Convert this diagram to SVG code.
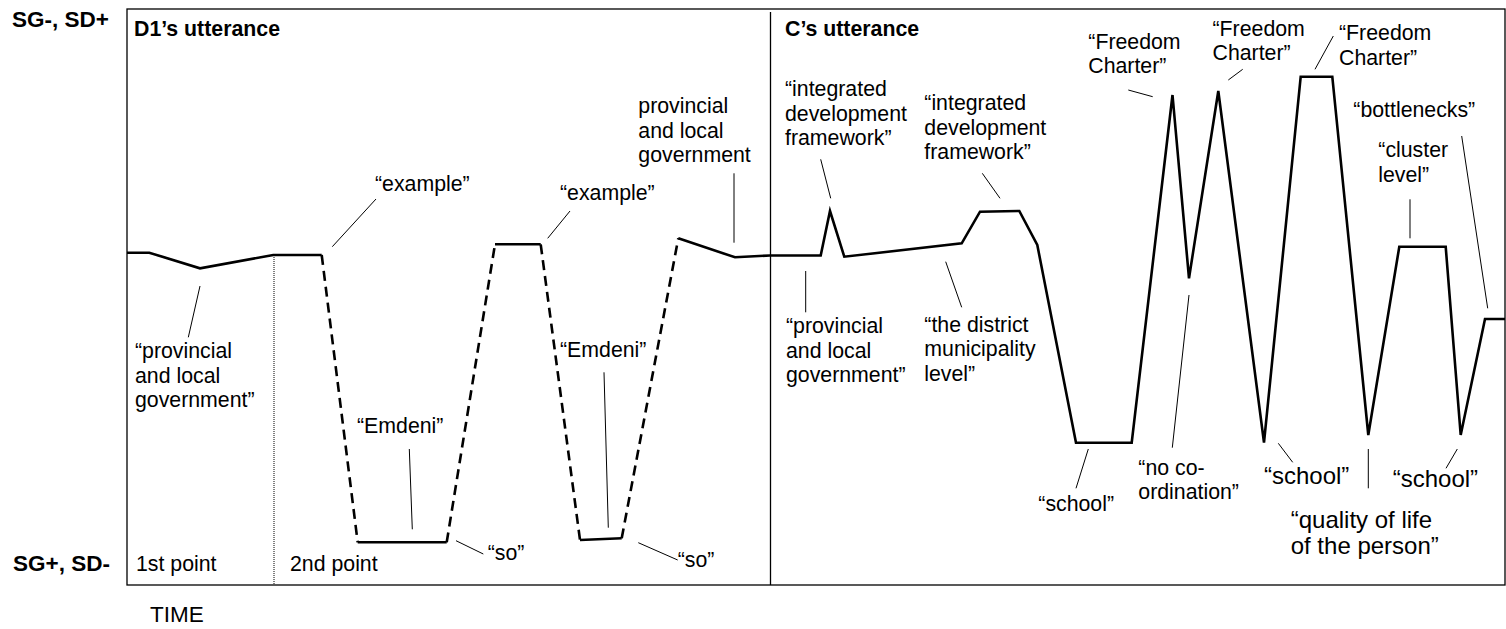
<svg xmlns="http://www.w3.org/2000/svg" width="1506" height="629" viewBox="0 0 1506 629">
  <style>
    text { font-family: "Liberation Sans", Arial, sans-serif; font-size: 21.3px; fill: #000; }
    .bold { font-weight: bold; font-size: 21.3px; }
    .axis { font-weight: bold; font-size: 22.5px; }
    .big { font-size: 24px; }
    .frame { fill: none; stroke: #000; stroke-width: 1.3; }
    .trace { fill: none; stroke: #000; stroke-width: 2.6; stroke-linejoin: miter; }
    .dash { fill: none; stroke: #000; stroke-width: 2.6; stroke-dasharray: 10 6; }
    .lead { fill: none; stroke: #000; stroke-width: 1; }
    .dot { fill: none; stroke: #000; stroke-width: 1; stroke-dasharray: 1 1; }
  </style>
  <rect width="1506" height="629" fill="#fff"/>

  <!-- axes and section frame -->
  <g id="axes">
    <rect class="frame" x="127" y="9" width="1378" height="576"/>
    <line class="frame" x1="770.5" y1="12" x2="770.5" y2="585"/>
    <line class="dot" x1="274" y1="255" x2="274" y2="585"/>
    <text class="axis" x="12" y="27">SG-, SD+</text>
    <text class="axis" x="13" y="571">SG+, SD-</text>
    <text x="150" y="622" style="font-size:22.5px">TIME</text>
    <text x="136" y="571">1st point</text>
    <text x="290" y="571">2nd point</text>
    <text class="bold" x="134" y="36">D1’s utterance</text>
    <text class="bold" x="785" y="36">C’s utterance</text>
  </g>

  <!-- semantic profile trace -->
  <g id="connectors">
    <polyline class="trace" points="127,252.7 149.3,252.7 200,268.3 273.3,255 321.7,255"/>
    <line class="dash" x1="321.7" y1="255" x2="357.7" y2="542.3"/>
    <line class="trace" x1="357.7" y1="542.3" x2="446.7" y2="542.3"/>
    <line class="dash" x1="446.7" y1="542.3" x2="495" y2="244.3"/>
    <line class="trace" x1="495" y1="244.3" x2="540.7" y2="244.3"/>
    <line class="dash" x1="540.7" y1="244.3" x2="580" y2="540"/>
    <line class="trace" x1="580" y1="540" x2="621.7" y2="538.3"/>
    <line class="dash" x1="621.7" y1="538.3" x2="678.3" y2="238.3"/>
    <polyline class="trace" points="678.3,238.3 735,257.3 770,255.5 820.7,255.5 830,211 844.3,256.7 961.7,243.3 980,211.7 1019.3,211 1037.3,245 1076,442.7 1131.7,442.7 1172.5,95 1189,278.3 1218.3,91 1264,442.7 1300.7,76.7 1332.3,76.7 1368.3,435 1399.3,246.7 1445.7,246.7 1460.7,435 1485,319 1505,319"/>

    <!-- label leaders -->
    <line class="lead" x1="200" y1="286" x2="188.3" y2="337.3"/>
    <line class="lead" x1="376" y1="199" x2="332.3" y2="246.7"/>
    <line class="lead" x1="409.3" y1="449" x2="412.3" y2="529.3"/>
    <line class="lead" x1="456" y1="540.7" x2="483.3" y2="554"/>
    <line class="lead" x1="570" y1="211" x2="547.7" y2="238.3"/>
    <line class="lead" x1="604" y1="372.3" x2="608.3" y2="527.7"/>
    <line class="lead" x1="638.3" y1="542.7" x2="677.7" y2="560"/>
    <line class="lead" x1="734" y1="173.3" x2="734" y2="242.7"/>
    <line class="lead" x1="820.7" y1="159.3" x2="830.7" y2="198.3"/>
    <line class="lead" x1="805.7" y1="271" x2="805.7" y2="312.3"/>
    <line class="lead" x1="982.3" y1="173.3" x2="1000" y2="198.3"/>
    <line class="lead" x1="945.7" y1="261.7" x2="961.7" y2="307.3"/>
    <line class="lead" x1="1088.3" y1="449" x2="1076" y2="488.3"/>
    <line class="lead" x1="1128.3" y1="90" x2="1152.7" y2="96.7"/>
    <line class="lead" x1="1189" y1="295" x2="1172.3" y2="447.7"/>
    <line class="lead" x1="1242.7" y1="69.3" x2="1228.3" y2="80"/>
    <line class="lead" x1="1278.3" y1="443.3" x2="1292.7" y2="462.3"/>
    <line class="lead" x1="1333.3" y1="36" x2="1315" y2="69.3"/>
    <line class="lead" x1="1368.3" y1="449" x2="1368.3" y2="488.3"/>
    <line class="lead" x1="1410" y1="199.3" x2="1410" y2="238.3"/>
    <line class="lead" x1="1461.7" y1="136" x2="1487.7" y2="308.3"/>
    <line class="lead" x1="1457.3" y1="449" x2="1446" y2="468.3"/>
  </g>

  <!-- D1 labels -->
  <g id="d1-provincial"><text x="135" y="358"><tspan x="135">“provincial</tspan><tspan x="135" dy="24.5">and local</tspan><tspan x="135" dy="24.5">government”</tspan></text></g>
  <g id="d1-example-1"><text x="375" y="191">“example”</text></g>
  <g id="d1-emdeni-1"><text x="357" y="433">“Emdeni”</text></g>
  <g id="d1-so-1"><text x="487.7" y="560">“so”</text></g>
  <g id="d1-example-2"><text x="560" y="200">“example”</text></g>
  <g id="d1-emdeni-2"><text x="560" y="357">“Emdeni”</text></g>
  <g id="d1-so-2"><text x="677.7" y="566.7">“so”</text></g>
  <g id="d1-provincial-2"><text x="638.3" y="113"><tspan x="638.3">provincial</tspan><tspan x="638.3" dy="24.5">and local</tspan><tspan x="638.3" dy="24.5">government</tspan></text></g>

  <!-- C labels -->
  <g id="c-idf-1"><text x="785" y="96"><tspan x="785">“integrated</tspan><tspan x="785" dy="24.5">development</tspan><tspan x="785" dy="24.5">framework”</tspan></text></g>
  <g id="c-idf-2"><text x="924.3" y="110"><tspan x="924.3">“integrated</tspan><tspan x="924.3" dy="24.5">development</tspan><tspan x="924.3" dy="24.5">framework”</tspan></text></g>
  <g id="c-provincial"><text x="786" y="333.3"><tspan x="786">“provincial</tspan><tspan x="786" dy="24.5">and local</tspan><tspan x="786" dy="24.5">government”</tspan></text></g>
  <g id="c-district"><text x="924.3" y="331.7"><tspan x="924.3">“the district</tspan><tspan x="924.3" dy="24.5">municipality</tspan><tspan x="924.3" dy="24.5">level”</tspan></text></g>
  <g id="c-school-1"><text x="1038.3" y="511">“school”</text></g>
  <g id="c-no-coordination"><text x="1138.3" y="475"><tspan x="1138.3">“no co-</tspan><tspan x="1138.3" dy="24">ordination”</tspan></text></g>
  <g id="c-freedom-1"><text x="1088.3" y="48.5"><tspan x="1088.3">“Freedom</tspan><tspan x="1088.3" dy="24.5">Charter”</tspan></text></g>
  <g id="c-freedom-2"><text x="1212.5" y="35.5"><tspan x="1212.5">“Freedom</tspan><tspan x="1212.5" dy="24.5">Charter”</tspan></text></g>
  <g id="c-freedom-3"><text x="1339" y="40"><tspan x="1339">“Freedom</tspan><tspan x="1339" dy="24.5">Charter”</tspan></text></g>
  <g id="c-school-2"><text class="big" x="1264" y="484">“school”</text></g>
  <g id="c-quality"><text class="big" x="1290.7" y="528"><tspan x="1290.7">“quality of life</tspan><tspan x="1290.7" dy="26">of the person”</tspan></text></g>
  <g id="c-school-3"><text class="big" x="1392.7" y="487">“school”</text></g>
  <g id="c-bottlenecks"><text x="1353.3" y="117">“bottlenecks”</text></g>
  <g id="c-cluster"><text x="1378.3" y="157"><tspan x="1378.3">“cluster</tspan><tspan x="1378.3" dy="24.5">level”</tspan></text></g>
</svg>
